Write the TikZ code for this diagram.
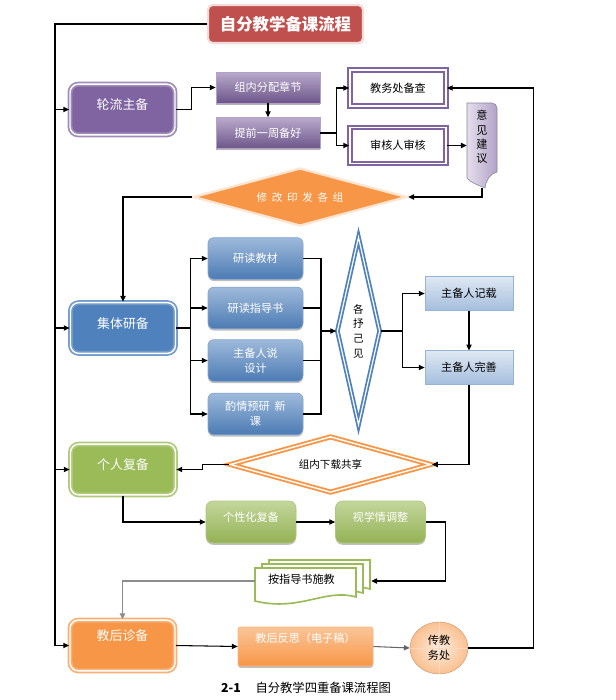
\documentclass[tikz,border=0pt]{standalone}
\usepackage{fontspec}
\setmainfont{Noto Sans CJK SC}
\usetikzlibrary{arrows.meta,positioning,shapes.geometric,shadows,calc}
\definecolor{redC}{RGB}{192,80,77}
\definecolor{purpleC}{RGB}{128,100,162}
\definecolor{purpleL}{RGB}{178,162,199}
\definecolor{blueC}{RGB}{79,129,189}
\definecolor{blueL}{RGB}{149,179,215}
\definecolor{greenC}{RGB}{155,187,89}
\definecolor{orangeC}{RGB}{247,150,70}
\definecolor{peach}{RGB}{250,192,144}

\tikzset{
  link/.style={line width=0.9pt,-{Triangle[length=5pt,width=4.5pt]}},
  wire/.style={line width=0.9pt},
  titlebox/.style={rounded corners=4pt,fill=redC,draw=redC!20,line width=1.8pt,text=white,
    minimum width=4.65cm,minimum height=1.14cm,font=\fontsize{14}{16}\selectfont\bfseries,
    drop shadow={shadow xshift=.5pt,shadow yshift=-1pt,opacity=.35}},
  mainbox/.style={rounded corners=7pt,line width=1.5pt,double=white,double distance=1.2pt,
    text=white,minimum width=3.15cm,minimum height=1.52cm,text depth=.3cm,
    font=\fontsize{11}{13}\selectfont},
  purplebar/.style={top color=purpleC!55!white,bottom color=purpleC!85!black,draw=purpleC!60,
    line width=.6pt,text=white,minimum width=3.12cm,minimum height=.93cm,
    font=\fontsize{9.5}{11}\selectfont,drop shadow={shadow xshift=0pt,shadow yshift=-1.5pt,opacity=.6}},
  checkbox/.style={fill=white,draw=purpleC,line width=1.5pt,double=white,double distance=1.4pt,
    minimum width=2.88cm,minimum height=1.08cm,font=\fontsize{9.5}{11}\selectfont},
  bluebar/.style={rounded corners=5pt,top color=blueC!55!white,bottom color=blueC!95!black,
    draw=blueC!70,line width=.6pt,text=white,minimum width=2.85cm,minimum height=1.25cm,
    align=center,font=\fontsize{9.5}{13}\selectfont,
    drop shadow={shadow xshift=0pt,shadow yshift=-1.5pt,opacity=.5}},
  skybox/.style={top color=blueL!30!white,bottom color=blueL!85,draw=blueL,line width=.6pt,
    minimum width=2.64cm,minimum height=1cm,font=\fontsize{9.5}{11}\selectfont,
    drop shadow={shadow xshift=.5pt,shadow yshift=-1pt,opacity=.3}},
  greenbar/.style={rounded corners=6pt,top color=greenC!60!white,bottom color=greenC!95!black,
    draw=greenC!80,line width=.6pt,text=white,minimum width=2.7cm,minimum height=1.26cm,
    text depth=.3cm,font=\fontsize{9.5}{11}\selectfont,
    drop shadow={shadow xshift=0pt,shadow yshift=-1.5pt,opacity=.5}},
  orangebar/.style={rounded corners=2pt,top color=orangeC!55!white,bottom color=orangeC,
    draw=orangeC!70,line width=.6pt,text=white,minimum width=4.05cm,minimum height=1.17cm,
    text depth=.5cm,font=\fontsize{9.5}{11}\selectfont,
    drop shadow={shadow xshift=0pt,shadow yshift=-1.5pt,opacity=.5}},
  gate/.style={diamond,inner sep=0pt,font=\fontsize{9}{11}\selectfont}
}

\begin{document}
\begin{tikzpicture}[x=0.03cm,y=-0.03cm]
  \useasboundingbox (0,0) rectangle (615,700);

  % title
  \node[titlebox] (title) at (285.5,24) {自分教学备课流程};

  % stage one
  \node[mainbox,fill=purpleC,draw=purpleC!75] (lunliu) at (122.5,109.5) {轮流主备};
  \node[purplebar] (fenpei) at (268,87.5) {组内分配章节};
  \node[purplebar] (tiqian) at (268,133) {提前一周备好};
  \node[checkbox] (jiaowu) at (398,88) {教务处备查};
  \node[checkbox] (shenhe) at (398,145.5) {审核人审核};
  \shadedraw[left color=purpleL!35!white,right color=purpleL,draw=purpleL!80!black,line width=.5pt]
    (467,103) -- (492,103) to[out=0,in=90] (497,108) -- (497,172)
    .. controls (490,174) and (486,180) .. (485,188)
    .. controls (478,185) and (471,183) .. (467,178) -- cycle;
  \node[minimum width=.9cm,minimum height=2.55cm,inner sep=0pt,align=center,text depth=.55cm,
    font=\fontsize{9.5}{12}\selectfont] (yijian) at (482,145.5) {意\\见\\建\\议};
  \node[gate,fill=orangeC,draw=orangeC!25,line width=2pt,text=white,aspect=3.7,
    minimum width=6.42cm,minimum height=1.74cm] (xiugai) at (300,197)
    {修\ \ 改\ \ 印\ \ 发\ \ 各\ \ 组};

  % stage two
  \node[mainbox,fill=blueC,draw=blueC!80] (jiti) at (123,328) {集体研备};
  \foreach \i/\y/\t in {1/258.5/研读教材,2/308/研读指导书,3/360.5/{主备人说\\设计},4/414/{酌情预研\ \ 新\\课}}
    \node[bluebar] (yd\i) at (255.5,\y) {\t};
  \node[gate,draw=blueC,line width=1.5pt,double=white,double distance=1pt,fill=white,aspect=0.23,
    minimum width=1.29cm,minimum height=5.64cm,align=center,
    font=\fontsize{9}{12.5}\selectfont] (gesu) at (358.5,331) {各\\抒\\己\\见};
  \node[skybox] (jizai) at (469,293.5) {主备人记载};
  \node[skybox] (wanshan) at (469,367.5) {主备人完善};

  % stage three
  \node[mainbox,fill=greenC,draw=greenC!80] (geren) at (123,469.5) {个人复备};
  \node[gate,draw=orangeC,line width=1.6pt,double=white,double distance=1.2pt,fill=white,aspect=3.6,
    minimum width=6.03cm,minimum height=1.68cm] (xiazai) at (330.5,464.5) {组内下载共享};
  \node[greenbar] (gexing) at (251,522) {个性化复备};
  \node[greenbar] (xueqing) at (380.5,522) {视学情调整};
  \foreach \dx/\dy in {14/8,7/4,0/0}
    \filldraw[draw=greenC,fill=white,line width=1.4pt,shift={(\dx,-\dy)}]
      (255,568) -- (356,568) -- (356,597)
      .. controls (325,588) and (300,612) .. (255,601) -- cycle;
  \node[minimum height=1.3cm,text width=2.7cm,inner xsep=.39cm,align=left,text depth=.15cm,
    font=\fontsize{9.5}{11}\selectfont] (shijiao) at (313,581) {按指导书施教};

  % stage four
  \node[mainbox,fill=orangeC,draw=orangeC!75,text depth=.65cm] (jiaohou) at (122.5,645.5) {教后诊备};
  \node[orangebar] (fansi) at (305.5,646.5) {教后反思（电子稿）};
  \node[ellipse,inner color=peach!30!white,outer color=peach,draw=peach!80!black,line width=.4pt,
    minimum width=1.74cm,minimum height=1.56cm,inner sep=0pt,align=center,
    font=\fontsize{9.5}{13}\selectfont,
    path picture={\draw[peach!60!white,line width=.5pt]
      (path picture bounding box.north) -- (path picture bounding box.south)
      (path picture bounding box.west) -- (path picture bounding box.east);}] (chuan) at (439,648) {传教\\务处};

  \node[font=\fontsize{10.5}{12}\selectfont] (caption) at (306,688) {\textbf{2-1}\hspace{1.2em}自分教学四重备课流程图};

  % connectors
  \coordinate (spine) at (55,24);
  \draw[link,line width=1.1pt] (title.west) -- (spine) |- (jiaohou.west);
  \foreach \n in {lunliu,jiti,geren}
    \draw[link] (spine |- \n.west) -- (\n.west);

  \draw[link] (lunliu.east) -- ++(16,0) |- (fenpei.west);
  \draw[link] (fenpei.south) -- (tiqian.north);
  \draw[wire] (tiqian.east) -- ++(16,0) coordinate (fork1);
  \draw[link] (fork1) |- (jiaowu.west);
  \draw[link] (fork1) |- (shenhe.west);
  \draw[link] (shenhe.east) -- (yijian.west);
  \draw[link] (yijian.south) |- (xiugai.east);
  \draw[link] (xiugai.west) -| (jiti.north);

  \draw[wire] (jiti.east) -- ++(14,0) coordinate (fork2);
  \foreach \i in {1,...,4}
    \draw[link] (fork2) |- (yd\i.west);
  \coordinate (join) at (321,331);
  \foreach \i in {1,...,4}
    \draw[wire] (yd\i.east) -| (join);
  \draw[link] (join) -- (gesu.west);
  \draw[wire] (gesu.east) -- ++(22,0) coordinate (fork3);
  \draw[link] (fork3) |- (jizai.west);
  \draw[link] (fork3) |- (wanshan.west);
  \draw[link] (jizai.south) -- (wanshan.north);
  \draw[link] (wanshan.south) |- (xiazai.east);

  \draw[link] (xiazai.west) -- ++(-27,0) |- (geren.east);
  \draw[link] (geren.south) |- (gexing.west);
  \draw[link] (gexing.east) -- (xueqing.west);
  \draw[link] (xueqing.east) -- ++(20,0) |- (shijiao.east);
  \draw[link,black!45] (shijiao.west) -| (jiaohou.north);

  \draw[link] (jiaohou.east) -- (fansi.west);
  \draw[link,black!60] (fansi.east) -- (chuan.west);
  \draw[link] (chuan.east) -- ++(65,0) |- (jiaowu.east);
\end{tikzpicture}
\end{document}
